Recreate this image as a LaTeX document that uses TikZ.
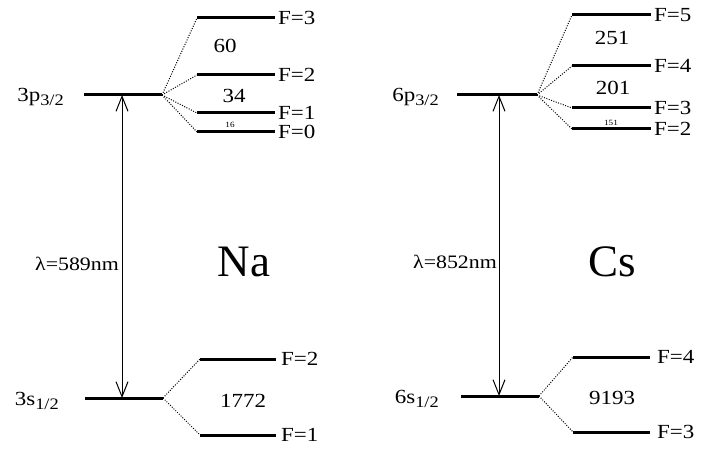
\documentclass[tikz,border=0pt]{standalone}
\usepackage{fontspec}
\setmainfont{Liberation Serif}
\newfontfamily\wide{Liberation Serif}[FakeStretch=1.15]
\usetikzlibrary{arrows.meta}
\newcommand{\lvlname}[3]{#1#2\raisebox{-0.45ex}{\fontsize{16}{16}\selectfont #3}}
\begin{document}
\begin{tikzpicture}[x=1pt,y=-1pt,
  level/.style={line width=3pt},
  split/.style={line width=1pt, dash pattern=on 1pt off 1.5pt},
  trans/.style={line width=0.9pt, {Straight Barb[length=15pt,width=12pt,line width=1pt]}-{Straight Barb[length=15pt,width=12pt,line width=1pt]}},
  flab/.style={anchor=west, font=\wide\fontsize{20}{20}\selectfont, inner sep=1pt},
  nlab/.style={font=\wide\fontsize{20}{20}\selectfont, inner sep=0pt},
  tiny/.style={font=\wide\fontsize{8}{8}\selectfont, inner sep=0pt},
  lname/.style={anchor=east, font=\wide\fontsize{20}{20}\selectfont, inner sep=0pt},
  wl/.style={anchor=east, font=\wide\fontsize{19}{19}\selectfont, inner sep=1pt},
  atom/.style={font=\fontsize{45}{45}\selectfont, inner sep=0pt}]
\useasboundingbox (0,0) rectangle (715,449);
\fill[white] (0,0) rectangle (715,449);

% ---------- Na ----------
\coordinate (NaPl) at (84,95);  \coordinate (NaPr) at (162,95);
\coordinate (NaSl) at (85,398); \coordinate (NaSr) at (163,398);
\draw[level] (NaPl) -- (NaPr);
\draw[level] (NaSl) -- (NaSr);
\node[lname] (NaPn) at (64,97) {\lvlname{3}{p}{3/2}};
\node[lname] (NaSn) at (59,401) {\lvlname{3}{s}{1/2}};
\coordinate (NaAt) at (122,95); \coordinate (NaAb) at (122,398);
\draw[trans] (NaAt) -- (NaAb);
\node[wl] (NaWl) at (120,264) {λ=589nm};
\node[atom] (Na) at (244,262) {Na};

\foreach \nm/\yy/\ff in {Na3/18/3, Na2/75/2, Na1/113/1, Na0/132/0}{
  \coordinate (\nm l) at (197,\yy); \coordinate (\nm r) at (275,\yy);
  \draw[level] (\nm l) -- (\nm r);
  \draw[split] (NaPr) -- (\nm l);
  \node[flab] (\nm f) at (277,\yy) {F=\ff};
}
\node[nlab] (NaD1) at (225,46) {60};
\node[nlab] (NaD2) at (234,96) {34};
\node[tiny] (NaD3) at (230,125) {16};

\foreach \nm/\yy/\ff in {NaG2/359/2, NaG1/435/1}{
  \coordinate (\nm l) at (200,\yy); \coordinate (\nm r) at (276,\yy);
  \draw[level] (\nm l) -- (\nm r);
  \draw[split] (NaSr) -- (\nm l);
  \node[flab] (\nm f) at (280,\yy) {F=\ff};
}
\node[nlab] (NaD4) at (243,401) {1772};

% ---------- Cs ----------
\coordinate (CsPl) at (457,95);  \coordinate (CsPr) at (537,95);
\coordinate (CsSl) at (461,396); \coordinate (CsSr) at (539,396);
\draw[level] (CsPl) -- (CsPr);
\draw[level] (CsSl) -- (CsSr);
\node[lname] (CsPn) at (439,97) {\lvlname{6}{p}{3/2}};
\node[lname] (CsSn) at (439,399) {\lvlname{6}{s}{1/2}};
\coordinate (CsAt) at (499,95); \coordinate (CsAb) at (499,396);
\draw[trans] (CsAt) -- (CsAb);
\node[wl] (CsWl) at (498,262) {λ=852nm};
\node[atom] (Cs) at (612,262) {Cs};

\foreach \nm/\yy/\ff in {Cs5/15/5, Cs4/66/4, Cs3/108/3, Cs2/129/2}{
  \coordinate (\nm l) at (572,\yy); \coordinate (\nm r) at (651,\yy);
  \draw[level] (\nm l) -- (\nm r);
  \draw[split] (CsPr) -- (\nm l);
  \node[flab] (\nm f) at (653,\yy) {F=\ff};
}
\node[nlab] (CsD1) at (612,38) {251};
\node[nlab] (CsD2) at (613,88) {201};
\node[tiny] (CsD3) at (611,123) {151};

\foreach \nm/\yy/\ff in {CsG4/357/4, CsG3/432/3}{
  \coordinate (\nm l) at (573,\yy); \coordinate (\nm r) at (650,\yy);
  \draw[level] (\nm l) -- (\nm r);
  \draw[split] (CsSr) -- (\nm l);
  \node[flab] (\nm f) at (656,\yy) {F=\ff};
}
\node[nlab] (CsD4) at (612,398) {9193};
\end{tikzpicture}
\end{document}
